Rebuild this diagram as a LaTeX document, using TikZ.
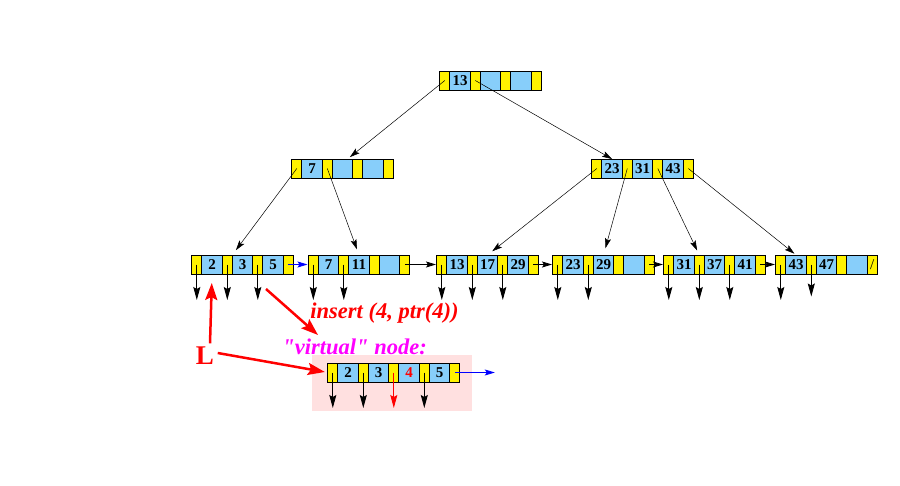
\documentclass[tikz,border=0pt]{standalone}
\usepackage{fontspec}
\setmainfont{Liberation Serif}[Ligatures=TeXOff]
\usetikzlibrary{matrix,arrows.meta,positioning}
\definecolor{keyblue}{RGB}{135,206,250}
\definecolor{bgpink}{RGB}{255,224,224}
\definecolor{virtmagenta}{RGB}{255,0,255}

\begin{document}
\begin{tikzpicture}[x=1pt, y=-1pt, line width=0.8pt]
        \tikzstyle{bnode}=[matrix of nodes, nodes in empty cells, anchor=west, inner sep=0pt, column sep=-0.8pt,
            nodes={draw, anchor=center, minimum height=19pt, inner sep=0pt, outer sep=0pt, font=\fontsize{15}{15}\selectfont\bfseries},
            every odd column/.style={nodes={fill=yellow, minimum width=10pt}},
            every even column/.style={nodes={fill=keyblue, minimum width=20.5pt}}]
        \tikzstyle{childedge}=[-{Stealth[length=10pt, width=6pt, inset=2pt]}, line width=0.5pt]
        \tikzstyle{recptr}=[-{Stealth[length=13pt, width=7pt, inset=2pt]}, line width=0.9pt]
        \tikzstyle{nextleaf}=[-{Stealth[length=10pt, width=6pt, inset=2pt]}, line width=0.8pt]
        \tikzstyle{hint}=[red, line width=2.5pt, -{Stealth[length=17pt, width=12pt, inset=3pt]}]

        \useasboundingbox (0,0) rectangle (900,485);
        \fill[bgpink] (312,355) rectangle (472,411);

        % tree
        \matrix (r) at (439,80.5) [bnode] { & 13 & & & & & \\ };
        \matrix (a) at (291,168.5) [bnode] { & 7 & & & & & \\ };
        \matrix (b) at (591,168.5) [bnode] { & 23 & & 31 & & 43 & \\ };

        % leaves
        \matrix (l1) at (191,264.5) [bnode] { & 2 & & 3 & & 5 & \\ };
        \matrix (l2) at (307.5,264.5) [bnode] { & 7 & & 11 & & & \\ };
        \matrix (l3) at (436,264.5) [bnode] { & 13 & & 17 & & 29 & \\ };
        \matrix (l4) at (552,264.5) [bnode] { & 23 & & 29 & & & \\ };
        \matrix (l5) at (663,264.5) [bnode] { & 31 & & 37 & & 41 & \\ };
        \matrix (l6) at (775,264.5) [bnode] { & 43 & & 47 & & & |[font=\fontsize{15}{15}\selectfont]| / \\ };

        % virtual node
        \matrix (v) at (327,372.5) [bnode] { & 2 & & 3 & & |[text=red]| 4 & & 5 & \\ };

        \draw[childedge, shorten >=3pt] (r-1-1.center) -- ([xshift=5pt]a-1-4.north);
        \draw[childedge] (r-1-3.center) -- (b-1-2.north);
        \draw[childedge, shorten >=6pt] (a-1-1.center) -- (l1-1-3.north east);
        \draw[childedge, shorten >=6pt] (a-1-3.center) -- (l2-1-4.north);
        \draw[childedge, shorten >=6pt] (b-1-1.center) -- (l3-1-4.north);
        \draw[childedge, shorten >=7pt] (b-1-3.center) -- (l4-1-4.north);
        \draw[childedge, shorten >=5pt] (b-1-5.center) -- (l5-1-3.north);
        \draw[childedge, shorten >=2pt] (b-1-7.center) -- (l6-1-2.north);

        \foreach \c in {l1-1-1,l1-1-3,l1-1-5,l2-1-1,l2-1-3,l3-1-1,l3-1-3,l3-1-5,
                        l4-1-1,l4-1-3,l5-1-1,l5-1-3,l5-1-5,l6-1-1,v-1-1,v-1-3,v-1-7}
            \draw[recptr] (\c.center) -- ++(0,35.5);
        \draw[recptr] (l6-1-3.center) -- ++(0,32);
        \draw[recptr, red] (v-1-5.center) -- ++(0,35.5);

        \draw[nextleaf, blue] (l1-1-7.center) -- (l2.west);
        \draw[nextleaf] (l2-1-7.center) -- (l3.west);
        \draw[nextleaf] (l3-1-7.center) -- (l4.west);
        \draw[nextleaf] (l4-1-7.center) -- (l5.west);
        \draw[nextleaf] (l5-1-7.center) -- (l6.west);
        \draw[nextleaf, blue] (v-1-9.center) -- ++(40,0);

        % insertion
        \node[red, font=\fontsize{27}{27}\selectfont\bfseries] (L) at (205,356) {L};
        \node[red, anchor=base west, inner sep=0pt, font=\fontsize{22.5}{22.5}\selectfont\bfseries\itshape] (op) at (310,318) {insert (4, ptr(4))};
        \node[virtmagenta, anchor=base west, inner sep=0pt, font=\fontsize{22.5}{22.5}\selectfont\bfseries\itshape] (virt) at (282,354) {"virtual" node:};
        \coordinate (ins) at (266,289);
        \coordinate (ins tip) at (318,335);

        \draw[hint, shorten >=9pt] ([xshift=5pt]L.north) -- (l1-1-2.south);
        \draw[hint, shorten >=3pt] ([yshift=3pt]L.east) -- (v-1-1.west);
        \draw[hint] (ins) -- (ins tip);

    \end{tikzpicture}
\end{document}
